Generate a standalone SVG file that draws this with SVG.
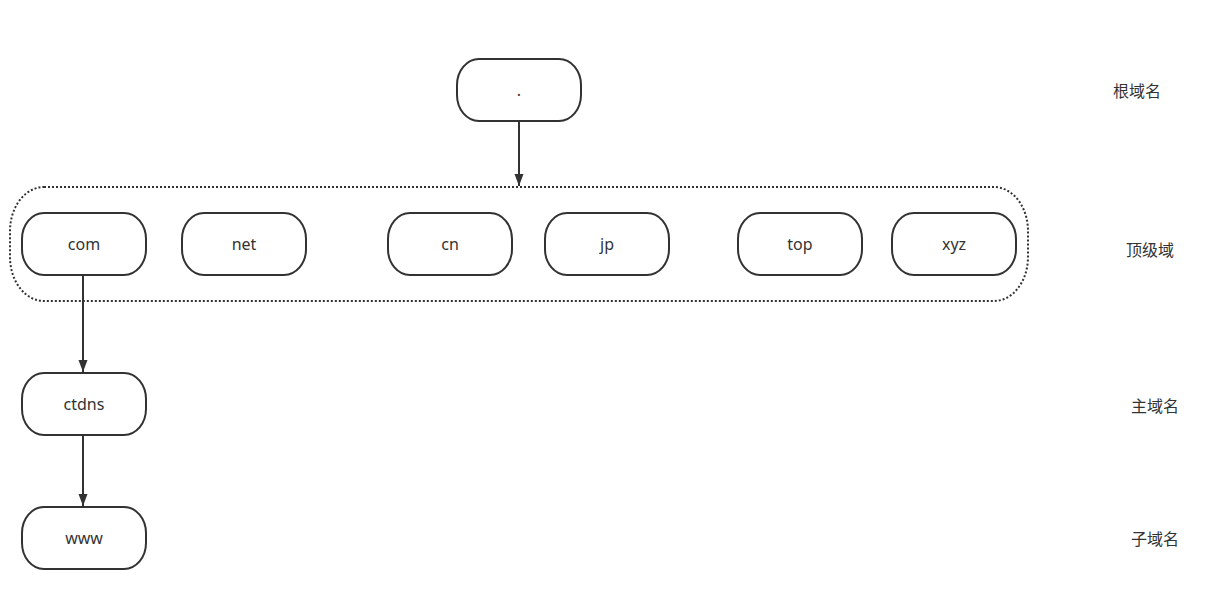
<svg xmlns="http://www.w3.org/2000/svg" width="1205" height="600" viewBox="0 0 1205 600">
<style>
.n{fill:#fff;stroke:#323232;stroke-width:2}
.t{font-family:"Microsoft YaHei","Noto Sans","Noto Sans CJK SC",sans-serif;font-size:16px;fill:#333;text-anchor:middle;dominant-baseline:central}
.l{font-family:"Noto Sans CJK SC",sans-serif;font-size:16px;fill:#333;dominant-baseline:central}
.c{stroke:#323232;stroke-width:2;fill:none}
.g{fill:none;stroke:#323232;stroke-width:2;stroke-dasharray:2 2}
</style>
<defs>
<marker id="a" markerWidth="12" markerHeight="16" refX="16" refY="6" orient="auto" markerUnits="userSpaceOnUse" viewBox="0 0 16 12">
<path d="M0,0 L16,6 L0,12 z" fill="#323232"/>
</marker>
</defs>
<rect id="group" class="g" x="10" y="187" width="1018" height="114" rx="34" ry="44"/>
<g id="root"><rect class="n" x="457" y="59" width="124" height="62" rx="22" ry="26"/><text class="t" x="519" y="90">.</text></g>
<g id="com"><rect class="n" x="22" y="213" width="124" height="62" rx="22" ry="26"/><text class="t" x="84" y="244">com</text></g>
<g id="net"><rect class="n" x="182" y="213" width="124" height="62" rx="22" ry="26"/><text class="t" x="244" y="244">net</text></g>
<g id="cn"><rect class="n" x="388" y="213" width="124" height="62" rx="22" ry="26"/><text class="t" x="450" y="244">cn</text></g>
<g id="jp"><rect class="n" x="545" y="213" width="124" height="62" rx="22" ry="26"/><text class="t" x="607" y="244">jp</text></g>
<g id="top"><rect class="n" x="738" y="213" width="124" height="62" rx="22" ry="26"/><text class="t" x="800" y="244">top</text></g>
<g id="xyz"><rect class="n" x="892" y="213" width="124" height="62" rx="22" ry="26"/><text class="t" x="954" y="244">xyz</text></g>
<g id="ctdns"><rect class="n" x="22" y="373" width="124" height="62" rx="22" ry="26"/><text class="t" x="84" y="404">ctdns</text></g>
<g id="www"><rect class="n" x="22" y="507" width="124" height="62" rx="22" ry="26"/><text class="t" x="84" y="538">www</text></g>
<g id="connectors">
<line class="c" x1="519" y1="121" x2="519" y2="186" marker-end="url(#a)"/>
<line class="c" x1="83" y1="275" x2="83" y2="372" marker-end="url(#a)"/>
<line class="c" x1="83" y1="435" x2="83" y2="506" marker-end="url(#a)"/>
</g>
<g id="labels">
<text class="l" x="1113" y="90">根域名</text>
<text class="l" x="1126" y="249">顶级域</text>
<text class="l" x="1131" y="405">主域名</text>
<text class="l" x="1131" y="538">子域名</text>
</g>
</svg>
